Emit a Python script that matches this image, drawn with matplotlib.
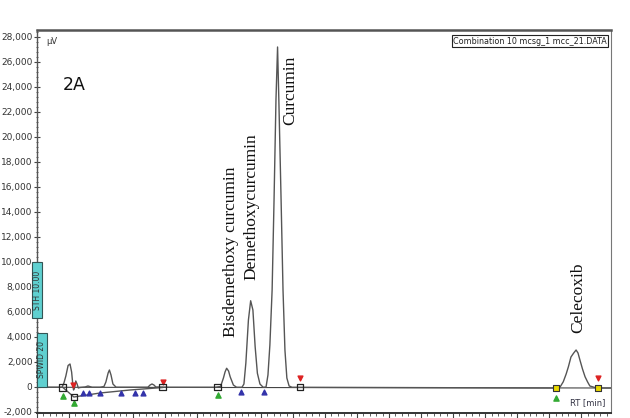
import numpy as np
import matplotlib
matplotlib.use("Agg")
import matplotlib.pyplot as plt
from matplotlib.ticker import MultipleLocator, FuncFormatter
from matplotlib.patches import Rectangle

# chromatogram trace: retention time (min) / signal (uV)
rt = [0.00, 0.79, 0.85, 0.91, 0.98, 1.04, 1.09, 1.12, 1.15, 1.18, 1.22, 1.26,
      1.30, 1.35, 1.51, 1.60, 1.73, 1.98, 2.10, 2.16, 2.23, 2.27, 2.32, 2.38,
      2.48, 3.47, 3.54, 3.60, 3.66, 3.72, 4.16, 5.57, 5.74, 5.83, 5.88, 5.93,
      5.99, 6.04, 6.14, 6.24, 6.41, 6.47, 6.53, 6.61, 6.68, 6.75, 6.82, 6.89,
      6.97, 7.07, 7.16, 7.22, 7.28, 7.35, 7.41, 7.47, 7.52, 7.56, 7.63, 7.69,
      7.75, 7.81, 7.88, 7.97, 12.0, 16.21, 16.34, 16.44, 16.53, 16.60, 16.68,
      16.76, 16.84, 16.90, 16.96, 17.04, 17.12, 17.20, 17.27, 17.48, 17.93]
signal = [-60, -60, 280, 840, 1680, 1800, 1160, 360, -280, -120, 440, 200,
          -120, -80, -40, 40, -60, -60, 0, 360, 1080, 1320, 920, 200,
          -60, -60, 120, 200, 120, -40, -60, -60, 0, 680, 1160, 1460,
          1240, 780, 120, -60, -60, 200, 1880, 5320, 6860, 6120, 3180, 1060,
          200, -60, -40, 920, 3320, 7720, 14920, 22920, 27160, 22920, 14920, 7720,
          2920, 680, 40, -60, -90, -120, -40, 380, 1000, 1580, 2360,
          2660, 2920, 2680, 2120, 1400, 780, 360, 40, -120, -120]

# integration baseline under the early peaks
base_rt = [0.81, 1.16, 1.98, 2.91, 3.93]
base_sig = [-60, -840, -520, -280, -80]

# integration markers
green_rt = [0.81, 1.17, 5.66, 16.21]
green_sig = [-760, -1320, -680, -920]
blue_rt = [1.44, 1.64, 1.98, 2.62, 3.08, 3.33, 6.37, 7.11]
blue_sig = [-540, -540, -540, -540, -540, -540, -420, -420]
red_rt = [1.14, 3.93, 8.22, 17.53]
red_sig = [120, 360, 660, 680]
square_rt = [0.81, 1.16, 3.93, 5.64, 8.22]
square_sig = [-60, -840, -40, -40, -40]
yellow_rt = [16.21, 17.53]
yellow_sig = [-120, -120]

# compound labels
names = ["Bisdemethoxy curcumin", "Demethoxycurcumin", "Curcumin", "Celecoxib"]
name_rt = [6.07, 6.69, 7.91, 16.90]
name_sig = [10760, 14360, 23720, 7080]

fig = plt.figure(figsize=(6.3, 4.18), dpi=100)
ax = fig.add_axes([36.7 / 630, 1 - 413 / 418, (611 - 36.7) / 630, (413 - 30) / 418])

ax.plot(rt, signal, color="#555555", lw=1.0, zorder=3)
ax.plot(base_rt, base_sig, color="#555555", lw=1.0, zorder=3)
ax.plot([0, 17.93], [-60, -120], color="#444444", lw=0.8, zorder=2)

ax.scatter(green_rt, green_sig, marker="^", s=14, color="#33aa33", zorder=4)
ax.scatter(blue_rt, blue_sig, marker="^", s=12, color="#3333aa", zorder=4)
ax.scatter(red_rt, red_sig, marker="v", s=12, color="#dd2222", zorder=4)
ax.scatter(square_rt, square_sig, marker="s", s=22, facecolor="none",
           edgecolor="#222222", lw=0.9, zorder=5)
ax.scatter(yellow_rt, yellow_sig, marker="s", s=22, facecolor="#e8d800",
           edgecolor="#333333", lw=0.8, zorder=5)

for n, x, y in zip(names, name_rt, name_sig):
    ax.text(x, y, n, rotation=90, ha="center", va="center",
            family="Liberation Serif", fontsize=12.5, color="#111111")

ax.set_xlim(0, 17.93)
ax.set_ylim(-2120, 28520)

ax.yaxis.set_major_locator(MultipleLocator(2000))
ax.yaxis.set_minor_locator(MultipleLocator(400))
ax.yaxis.set_major_formatter(FuncFormatter(lambda v, p: f"{int(v):,}"))
ax.xaxis.set_major_locator(MultipleLocator(1))
ax.xaxis.set_minor_locator(MultipleLocator(0.2))
ax.tick_params(axis="y", which="major", direction="inout", length=4,
               width=0.8, labelsize=6.5, labelcolor="#333333", color="#444444", pad=1)
ax.tick_params(axis="y", which="minor", direction="inout", length=2,
               width=0.6, color="#444444")
ax.tick_params(axis="x", which="major", direction="out", length=4,
               width=0.8, labelbottom=False, color="#444444")
ax.tick_params(axis="x", which="minor", direction="out", length=2,
               width=0.6, color="#444444")

ax.spines["top"].set_color("#555555")
ax.spines["top"].set_linewidth(1.8)
ax.spines["right"].set_color("#777777")
ax.spines["right"].set_linewidth(0.8)
ax.spines["left"].set_color("#555555")
ax.spines["left"].set_linewidth(1.0)
ax.spines["bottom"].set_color("#333333")
ax.spines["bottom"].set_linewidth(1.4)

ax.text(0.016, 0.969, "µV", transform=ax.transAxes, fontsize=6,
        color="#333333", ha="left", va="center")
ax.text(0.066, 0.856, "2A", transform=ax.transAxes, fontsize=12.5,
        color="#111111", ha="center", va="center")
ax.text(0.993, 0.971, "Combination 10 mcsg_1 mcc_21.DATA", transform=ax.transAxes,
        fontsize=5.8, color="#222222", ha="right", va="center",
        bbox=dict(boxstyle="square,pad=0.15", fc="white", ec="#222222", lw=0.8))
ax.text(0.990, 0.016, "RT [min]", transform=ax.transAxes, fontsize=6,
        color="#333344", ha="right", va="bottom")

# cyan event boxes on the left spine
for (x0, x1, y0, y1, label) in [(32, 42, 262, 318, "STH 10.00"),
                                 (37, 47, 333, 387, "SPWID 20")]:
    fig.patches.append(Rectangle((x0 / 630, 1 - y1 / 418), (x1 - x0) / 630,
                                 (y1 - y0) / 418, transform=fig.transFigure,
                                 fc="#5fd0d0", ec="#335555", lw=0.8, zorder=5))
    fig.text((x0 + x1) / 2 / 630, 1 - (y0 + y1) / 2 / 418, label, rotation=90,
             ha="center", va="center", fontsize=5.5, color="#333333", zorder=6)

fig.savefig("out.png", dpi=100)
